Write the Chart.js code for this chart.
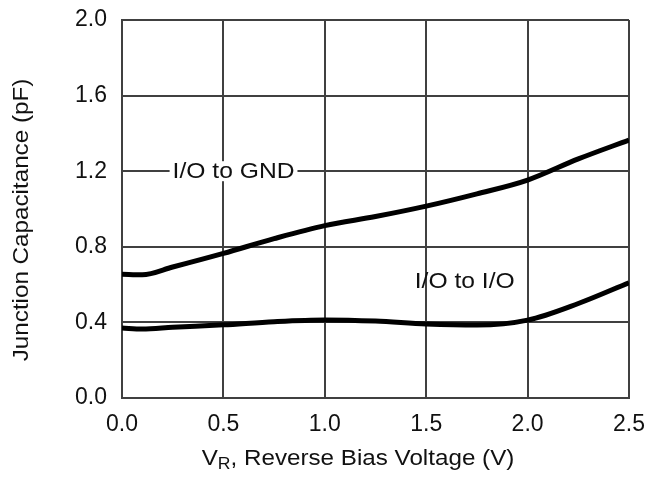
<!DOCTYPE html>
<html>
<head>
<meta charset="utf-8">
<script src="https://cdn.jsdelivr.net/npm/chart.js@4/dist/chart.umd.min.js"></script>
<style>
  html, body { margin: 0; padding: 0; background: #fff; }
  #wrap { width: 649px; height: 480px; }
</style>
</head>
<body>
<div id="wrap"><canvas id="capChart" width="649" height="480"></canvas></div>
<script>
// values
const voltages = [0, 0.1, 0.25, 0.5, 0.75, 1.0, 1.25, 1.5, 1.75, 2.0, 2.25, 2.5];
const ioToGnd = [0.655, 0.652, 0.693, 0.765, 0.843, 0.912, 0.96, 1.015, 1.08, 1.153, 1.265, 1.365];
const ioToIo = [0.37, 0.365, 0.374, 0.387, 0.404, 0.413, 0.407, 0.392, 0.386, 0.412, 0.50, 0.61];
const seriesNames = ['I/O to GND', 'I/O to I/O'];
const xTicks = [0, 0.5, 1.0, 1.5, 2.0, 2.5];
const yTicks = [0, 0.4, 0.8, 1.2, 1.6, 2.0];

const FONT = '"Liberation Sans", Arial, sans-serif';
const gridColor = '#404040';

function toPoints(ys) {
    return voltages.map((v, i) => ({ x: v, y: ys[i] }));
}

// curve labels and axis titles (drawn on the canvas with the chart's scales)
const labelPlugin = {
    id: 'curveLabels',
    beforeDatasetsDraw(chart) {
        const ctx = chart.ctx;
        const xs = chart.scales.x, ys = chart.scales.y;
        ctx.save();
        ctx.font = '22px ' + FONT;
        ctx.textBaseline = 'middle';
        ctx.textAlign = 'center';

        // I/O to GND sits on the 1.2 grid line with a white knock-out
        let cx = xs.getPixelForValue(0.55), cy = ys.getPixelForValue(1.2);
        let w = ctx.measureText(seriesNames[0]).width * 1.12;
        ctx.fillStyle = '#fff';
        ctx.fillRect(cx - w / 2 - 3, cy - 10, w + 6, 20);
        ctx.fillStyle = '#111';
        ctx.save();
        ctx.translate(cx, cy + 1);
        ctx.scale(1.12, 1);
        ctx.fillText(seriesNames[0], 0, 0);
        ctx.restore();

        cx = xs.getPixelForValue(1.69);
        cy = ys.getPixelForValue(0.614);
        ctx.save();
        ctx.translate(cx, cy);
        ctx.scale(1.12, 1);
        ctx.fillText(seriesNames[1], 0, 0);
        ctx.restore();
        ctx.restore();
    },
    afterDraw(chart) {
        const ctx = chart.ctx;
        ctx.save();
        ctx.fillStyle = '#111';
        ctx.textBaseline = 'alphabetic';

        // x title with subscript R
        const main = ', Reverse Bias Voltage (V)';
        ctx.font = '22px ' + FONT;
        const wV = ctx.measureText('V').width;
        const wMain = ctx.measureText(main).width;
        ctx.font = '16px ' + FONT;
        const wR = ctx.measureText('R').width;
        const total = (wV + wR + wMain) * 1.1;
        const startX = 358 - total / 2;
        ctx.save();
        ctx.translate(startX, 465);
        ctx.scale(1.1, 1);
        ctx.font = '22px ' + FONT;
        ctx.textAlign = 'left';
        ctx.fillText('V', 0, 0);
        ctx.font = '16px ' + FONT;
        ctx.fillText('R', wV, 4);
        ctx.font = '22px ' + FONT;
        ctx.fillText(main, wV + wR, 0);
        ctx.restore();

        // y title
        ctx.save();
        ctx.translate(22, 220);
        ctx.rotate(-Math.PI / 2);
        ctx.scale(1.1, 1);
        ctx.font = '22px ' + FONT;
        ctx.textAlign = 'center';
        ctx.textBaseline = 'middle';
        ctx.fillText('Junction Capacitance (pF)', 0, 0);
        ctx.restore();
        ctx.restore();
    }
};

const ctx = document.getElementById('capChart').getContext('2d');
const capChart = new Chart(ctx, {
    type: 'line',
    data: {
        datasets: [
            {
                label: seriesNames[0],
                data: toPoints(ioToGnd),
                borderColor: '#000',
                borderWidth: 5,
                pointRadius: 0,
                cubicInterpolationMode: 'monotone',
                fill: false
            },
            {
                label: seriesNames[1],
                data: toPoints(ioToIo),
                borderColor: '#000',
                borderWidth: 5,
                pointRadius: 0,
                cubicInterpolationMode: 'monotone',
                fill: false
            }
        ]
    },
    options: {
        responsive: false,
        animation: false,
        devicePixelRatio: 1,
        layout: { padding: { top: 20, right: 20, left: 0, bottom: 0 } },
        plugins: {
            legend: { display: false },
            tooltip: { enabled: false }
        },
        scales: {
            x: {
                type: 'linear',
                min: 0,
                max: 2.5,
                afterBuildTicks: scale => { scale.ticks = xTicks.map(v => ({ value: v })); },
                afterFit: scale => { scale.height = 82; },
                grid: { color: gridColor, lineWidth: 2, drawTicks: true, tickLength: 13, tickColor: 'rgba(0,0,0,0)' },
                border: { color: gridColor, width: 2 },
                ticks: {
                    padding: 0,
                    color: '#111',
                    font: { family: FONT, size: 23 },
                    callback: v => Number(v).toFixed(1)
                }
            },
            y: {
                type: 'linear',
                min: 0,
                max: 2,
                afterBuildTicks: scale => { scale.ticks = yTicks.map(v => ({ value: v })); },
                afterFit: scale => { scale.width = 122; },
                grid: { color: gridColor, lineWidth: 2, drawTicks: true, tickLength: 15, tickColor: 'rgba(0,0,0,0)' },
                border: { color: gridColor, width: 2 },
                ticks: {
                    padding: 0,
                    color: '#111',
                    font: { family: FONT, size: 23 },
                    callback: v => Number(v).toFixed(1)
                }
            }
        }
    },
    plugins: [labelPlugin]
});
</script>
</body>
</html>
